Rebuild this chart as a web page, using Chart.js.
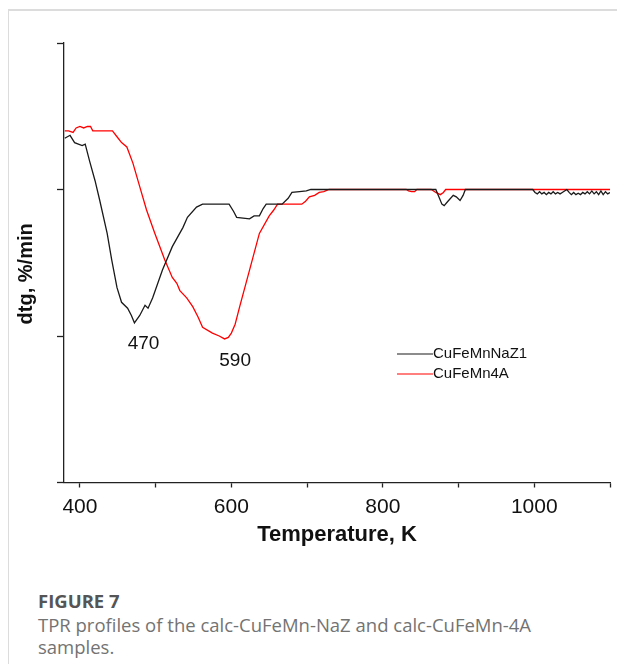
<!DOCTYPE html>
<html lang="en">
<head>
  <meta charset="UTF-8">
  <title>TPR profiles</title>
  <script src="https://cdn.jsdelivr.net/npm/chart.js"></script>
  <style>
    body {
      margin: 0;
      background: #fff;
      width: 617px;
      height: 664px;
      overflow: hidden;
      position: relative;
    }
    .card {
      position: absolute;
      left: 8px;
      top: 9px;
      right: 0;
      bottom: 0;
      border-top: 2px solid #dcdcdc;
      border-left: 1px solid #dcdcdc;
    }
    #tpr {
      position: absolute;
      left: 0;
      top: 0;
    }
    .caption {
      position: absolute;
      left: 38px;
      top: 587px;
      font-family: 'Open Sans', sans-serif;
    }
    .caption h4 {
      margin: 0;
      font-size: 18.5px;
      line-height: 27px;
      color: #555;
      font-weight: bold;
    }
    .caption p {
      margin: 0;
      font-size: 18.5px;
      line-height: 22px;
      color: #737373;
    }
  </style>
</head>
<body>
  <div class="card"></div>
  <canvas id="tpr" width="617" height="560"></canvas>

  <div class="caption">
    <h4>FIGURE 7</h4>
    <p>TPR profiles of the calc-CuFeMn-NaZ and calc-CuFeMn-4A<br>samples.</p>
  </div>

<script>
  // CuFeMnNaZ1 (black)
  const tempNaZ = [380, 387, 393, 398, 403, 407, 413, 420, 426, 436, 442, 449, 455, 463, 468, 472, 479, 486, 490, 496,
    509, 522, 536, 542, 554, 562, 597, 603, 607, 624, 630, 637, 642, 646, 667, 675, 680, 690, 699, 705,
    870, 874, 878, 881, 886, 893, 897, 902, 906, 909, 998,
    1001, 1004, 1007, 1010, 1013, 1016, 1019, 1022, 1025, 1028, 1031, 1034, 1037, 1040, 1043, 1046, 1049,
    1052, 1055, 1058, 1061, 1064, 1067, 1070, 1073, 1076, 1079, 1082, 1085, 1088, 1091, 1094, 1097, 1100];
  const dtgNaZ = [0.35, 0.37, 0.32, 0.31, 0.30, 0.31, 0.19, 0.06, -0.07, -0.30, -0.48, -0.67, -0.77, -0.81, -0.86, -0.91, -0.86, -0.79, -0.81, -0.74,
    -0.55, -0.39, -0.26, -0.19, -0.12, -0.10, -0.10, -0.15, -0.19, -0.20, -0.18, -0.18, -0.13, -0.10, -0.10, -0.06, -0.02, -0.015, -0.01, 0,
    0, -0.05, -0.10, -0.11, -0.08, -0.04, -0.05, -0.075, -0.04, 0, 0,
    -0.02, -0.03, -0.015, -0.03, -0.02, -0.035, -0.02, -0.03, -0.015, -0.03, -0.02, -0.03, -0.02, -0.01, 0, -0.02, -0.035,
    -0.02, -0.035, -0.025, -0.035, -0.02, -0.03, -0.015, -0.03, -0.01, -0.03, -0.015, -0.035, -0.01, -0.035, -0.015, -0.03, -0.02];

  // CuFeMn4A (red)
  const temp4A = [380, 385, 391, 395, 400, 405, 410, 414, 417, 443, 449, 455, 462, 470, 479, 488, 499, 512, 522, 528,
    532, 541, 549, 556, 562, 575, 584, 591, 596, 600, 605, 611, 624, 637, 650, 656, 661, 693, 698, 703,
    710, 716, 722, 729, 831, 834, 838, 842, 845, 864, 870, 876, 880, 883, 1100];
  const dtg4A = [0.40, 0.40, 0.39, 0.42, 0.43, 0.42, 0.43, 0.43, 0.40, 0.40, 0.36, 0.32, 0.29, 0.18, 0.02, -0.14, -0.30, -0.48, -0.60, -0.64,
    -0.69, -0.74, -0.80, -0.87, -0.94, -0.98, -1.00, -1.02, -1.01, -0.98, -0.92, -0.80, -0.55, -0.30, -0.18, -0.14, -0.10, -0.10, -0.08, -0.05,
    -0.04, -0.02, -0.015, 0, 0, -0.01, -0.015, -0.015, 0, 0, -0.02, -0.035, -0.02, 0, 0];

  const seriesNames = ['CuFeMnNaZ1', 'CuFeMn4A'];
  const seriesColors = ['#1a1a1a', '#ff0000'];
  const xTicks = [400, 500, 600, 700, 800, 900, 1000, 1100];
  const xTickLabels = ['400', '', '600', '', '800', '', '1000', ''];
  const yTicks = [-2, -1, 0, 1];
  const peakLabels = ['470', '590'];
  const peakX = [484, 605];
  const peakY = [-1.05, -1.17];

  const toPoints = (xs, ys) => xs.map((x, i) => ({ x: x, y: ys[i] }));

  // peak numbers and the legend inside the plot
  const extras = {
    id: 'extras',
    afterDraw(chart) {
      const ctx = chart.ctx;
      const xs = chart.scales.x, ys = chart.scales.y;
      ctx.save();
      ctx.fillStyle = '#111';
      ctx.font = '19px "Liberation Sans", Arial, sans-serif';
      ctx.textAlign = 'center';
      ctx.textBaseline = 'middle';
      peakLabels.forEach((t, i) => {
        ctx.fillText(t, xs.getPixelForValue(peakX[i]), ys.getPixelForValue(peakY[i]));
      });

      ctx.font = '15px "Liberation Sans", Arial, sans-serif';
      ctx.textAlign = 'left';
      const lx = 397, ly = 354;
      chart.data.datasets.forEach((ds, i) => {
        const y = ly + i * 20;
        ctx.strokeStyle = ds.borderColor;
        ctx.lineWidth = 1.2;
        ctx.beginPath();
        ctx.moveTo(lx, y);
        ctx.lineTo(lx + 36, y);
        ctx.stroke();
        ctx.fillStyle = '#111';
        ctx.fillText(ds.label, lx + 36, y);
      });
      ctx.restore();
    }
  };

  new Chart(document.getElementById('tpr'), {
    type: 'line',
    data: {
      datasets: [
        {
          label: seriesNames[0],
          data: toPoints(tempNaZ, dtgNaZ),
          borderColor: seriesColors[0],
          borderWidth: 1.3,
          pointRadius: 0,
          tension: 0
        },
        {
          label: seriesNames[1],
          data: toPoints(temp4A, dtg4A),
          borderColor: seriesColors[1],
          borderWidth: 1.3,
          pointRadius: 0,
          tension: 0
        }
      ]
    },
    options: {
      responsive: false,
      animation: false,
      layout: { padding: { top: 43, right: 4, left: 0, bottom: 0 } },
      plugins: {
        legend: { display: false },
        tooltip: { enabled: false }
      },
      scales: {
        x: {
          type: 'linear',
          min: 379,
          max: 1100,
          afterBuildTicks: s => { s.ticks = xTicks.map(v => ({ value: v })); },
          afterFit: s => { s.height = 77.5; },
          ticks: {
            color: '#111',
            font: { size: 21, family: '"Liberation Sans", Arial, sans-serif' },
            padding: 7,
            maxRotation: 0,
            callback: (v, i) => xTickLabels[i]
          },
          grid: { drawOnChartArea: false, drawTicks: true, tickLength: 5, tickColor: '#222', tickWidth: 1.3 },
          border: { color: '#222', width: 1.3 },
          title: {
            display: true,
            text: 'Temperature, K',
            color: '#111',
            font: { size: 22, weight: 'bold', family: '"Liberation Sans", Arial, sans-serif' },
            padding: { top: 0, bottom: 12 }
          }
        },
        y: {
          min: -2,
          max: 1,
          afterBuildTicks: s => { s.ticks = yTicks.map(v => ({ value: v })); },
          afterFit: s => { s.width = 64; },
          ticks: { display: false },
          grid: { drawOnChartArea: false, drawTicks: true, tickLength: 7, tickColor: '#222', tickWidth: 1.3 },
          border: { color: '#222', width: 1.3 },
          title: {
            display: true,
            text: 'dtg, %/min    ',
            color: '#111',
            font: { size: 20, weight: 'bold', family: '"Liberation Sans", Arial, sans-serif' },
            padding: { top: 14, bottom: 0 }
          }
        }
      }
    },
    plugins: [extras]
  });
</script>
</body>
</html>
